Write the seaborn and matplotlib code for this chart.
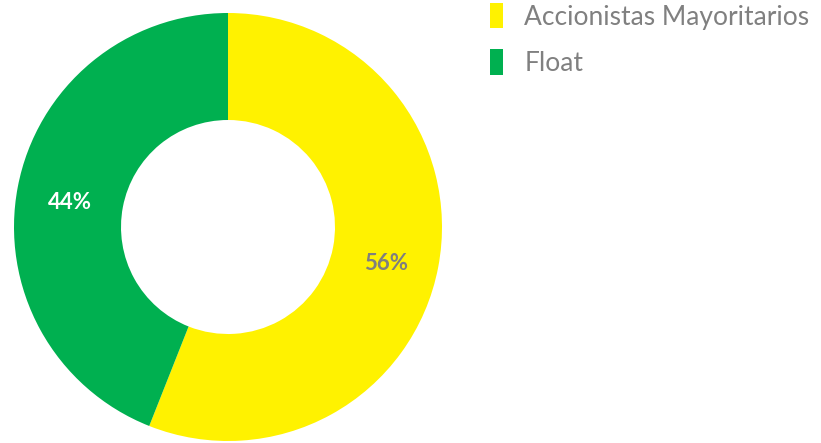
import numpy as np
import matplotlib
matplotlib.use("Agg")
import matplotlib.pyplot as plt
import matplotlib.transforms as mtransforms
import seaborn as sns

# datos
categorias = ["Accionistas Mayoritarios", "Float"]
valores = [56, 44]
colores = ["#FFF200", "#00B050"]
color_etiqueta = ["#7F7F7F", "#FFFFFF"]

sns.set_theme(style="white")
plt.rcParams['font.family'] = ['Lato', 'DejaVu Sans']

fig = plt.figure(figsize=(8.21, 4.43), dpi=100)
# ejes cuadrados alrededor del centro del anillo (228, 227 px)
ax = fig.add_axes([(228 - 214) / 821, (216 - 214) / 443, 428 / 821, 428 / 443])

wedges, texts, autotexts = ax.pie(
    valores, colors=colores, startangle=90, counterclock=False,
    radius=1.0, wedgeprops=dict(width=0.5, edgecolor="none"),
    autopct=lambda p: f"{p:.0f}%", pctdistance=0.75,
    textprops=dict(fontsize=16, fontweight="bold"))
bajar = mtransforms.ScaledTranslation(0, -6 / 100, fig.dpi_scale_trans)
for t, c in zip(autotexts, color_etiqueta):
    t.set_color(c)
    t.set_transform(t.get_transform() + bajar)

ax.set_xlim(-1, 1); ax.set_ylim(-1, 1)
ax.set_aspect("equal")

leg = fig.legend(wedges, categorias, loc="upper left",
                 bbox_to_anchor=(490 / 821, 1 - 3 / 443), frameon=False,
                 fontsize=19, handlelength=0.5, handleheight=1.1,
                 handletextpad=0.8, labelspacing=0.75, borderaxespad=0,
                 borderpad=0.0)
for t in leg.get_texts():
    t.set_color("#808080")

fig.savefig("out.png", dpi=100)
